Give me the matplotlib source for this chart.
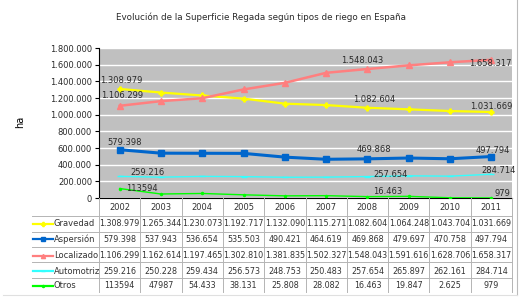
import matplotlib
matplotlib.use('Agg')
from matplotlib import pyplot as plt
from matplotlib.lines import Line2D

# datos: superficie regada (ha) por tipo de riego
years = ['2002', '2003', '2004', '2005', '2006', '2007', '2008', '2009', '2010', '2011']
gravedad = [1308979, 1265344, 1230073, 1192717, 1132090, 1115271, 1082604, 1064248, 1043704, 1031669]
aspersion = [579398, 537943, 536654, 535503, 490421, 464619, 469868, 479697, 470758, 497794]
localizado = [1106299, 1162614, 1197465, 1302810, 1381835, 1502327, 1548043, 1591616, 1628706, 1658317]
automotriz = [259216, 250228, 259434, 256573, 248753, 250483, 257654, 265897, 262161, 284714]
otros = [113594, 47987, 54433, 38131, 25808, 28082, 16463, 19847, 2625, 979]
# en la tabla original los dos primeros valores de Otros van sin punto
otros_txt = ['113594', '47987', '54.433', '38.131', '25.808', '28.082', '16.463', '19.847', '2.625', '979']

series_names = ['Gravedad', 'Aspersión', 'Localizado', 'Automotriz', 'Otros']
series_vals = [gravedad, aspersion, localizado, automotriz, otros]
colors = ['#FFFF00', '#0066CC', '#FF7F7F', '#33FFFF', '#00FF00']
markers = ['P', 's', '^', '_', '.']
widths = [1.6, 2.2, 1.8, 1.0, 1.0]
msizes = [3.5, 4, 4, 4, 3]

# etiquetas mostradas (indice del año)
label_idx = [0, 6, 9]
label_offsets = {
    'Gravedad': [(2, 8), (7, 8), (0, 6)],
    'Aspersión': [(5, 7), (6, 9), (1, 6)],
    'Localizado': [(3, 10), (-5, 8), (-1, -4)],
    'Automotriz': [(28, 4), (23, 2), (7, 4)],
    'Otros': [(22, 0), (20, 5), (11, 4)],
}


def fmt(v):
    return '{:,}'.format(v).replace(',', '.')


W, H = 520, 302
fig = plt.figure(figsize=(W / 100, H / 100), dpi=100)
fig.patch.set_facecolor('white')

left, right, top, bottom = 99, 512, 48, 198
ax = fig.add_axes([left / W, 1 - bottom / H, (right - left) / W, (bottom - top) / H])
ax.set_facecolor('#C0C0C0')

x = list(range(len(years)))
for name, vals, c, m, lw, ms in zip(series_names, series_vals, colors, markers, widths, msizes):
    ax.plot(x, vals, color=c, marker=m, linewidth=lw, markersize=ms, markeredgewidth=1, zorder=3)
    for k, i in enumerate(label_idx):
        txt = otros_txt[i] if name == 'Otros' else fmt(vals[i])
        ax.annotate(txt, (x[i], vals[i]), xytext=label_offsets[name][k], textcoords='offset pixels',
                    ha='center', va='center', fontsize=6, color='#2a2a2a', zorder=4)

ax.set_xlim(-0.5, len(years) - 0.5)
ax.set_ylim(0, 1800000)
ax.set_yticks(range(0, 1800001, 200000))
ax.set_yticklabels([fmt(v) for v in range(0, 1800001, 200000)], fontsize=6, color='#2a2a2a')
ax.yaxis.grid(True, color='white', linewidth=1)
ax.set_axisbelow(True)
ax.set_xticks([i - 0.5 for i in range(1, len(years))])
ax.set_xticklabels([])
ax.tick_params(axis='x', length=0)
ax.tick_params(axis='y', length=3, width=0.8, pad=2)
for s in ['top', 'right']:
    ax.spines[s].set_visible(False)
ax.spines['left'].set_color('black')
ax.spines['bottom'].set_color('black')

fig.text(261 / W, 1 - 17 / H, 'Evolución de la Superficie Regada según tipos de riego en España',
         ha='center', va='center', fontsize=6.3, color='#2a2a2a')
fig.text(20 / W, 1 - 122 / H, 'ha', rotation=90, ha='center', va='center', fontsize=7)

# tabla de datos
def fy(py):
    return 1 - py / H

col_w = (right - left) / len(years)
row_y = [224, 239, 256, 271, 286]
line_y = [216, 232, 247, 262, 278]
gc = '#B4B4B4'

for i, yr in enumerate(years):
    fig.text((left + (i + 0.5) * col_w) / W, fy(207), yr, ha='center', va='center', fontsize=6, color='#333333')
for i in range(len(years) + 1):
    xx = (left + i * col_w) / W
    fig.add_artist(Line2D([xx, xx], [fy(198), fy(292)], color=gc, linewidth=0.7))
for ly in line_y:
    fig.add_artist(Line2D([32 / W, right / W], [fy(ly), fy(ly)], color=gc, linewidth=0.7))

for r, (name, vals, c, m) in enumerate(zip(series_names, series_vals, colors, markers)):
    yy = fy(row_y[r])
    fig.add_artist(Line2D([33 / W, 53 / W], [yy, yy], color=c, linewidth=1.6))
    fig.add_artist(Line2D([43 / W], [yy], color=c, marker=m, markersize=3, linewidth=0))
    fig.text(54 / W, yy, name, ha='left', va='center', fontsize=6, color='#333333')
    for i in range(len(years)):
        txt = otros_txt[i] if name == 'Otros' else fmt(vals[i])
        fig.text((left + (i + 0.5) * col_w) / W, yy, txt, ha='center', va='center', fontsize=5.8,
                 color='#333333')

# borde del grafico
fig.add_artist(Line2D([517 / W, 517 / W], [fy(0), fy(295)], color='#BBBBBB', linewidth=0.8))
fig.add_artist(Line2D([3 / W, 517 / W], [fy(295), fy(295)], color='#E0E0E0', linewidth=0.8))

fig.savefig('out.png', dpi=100)
